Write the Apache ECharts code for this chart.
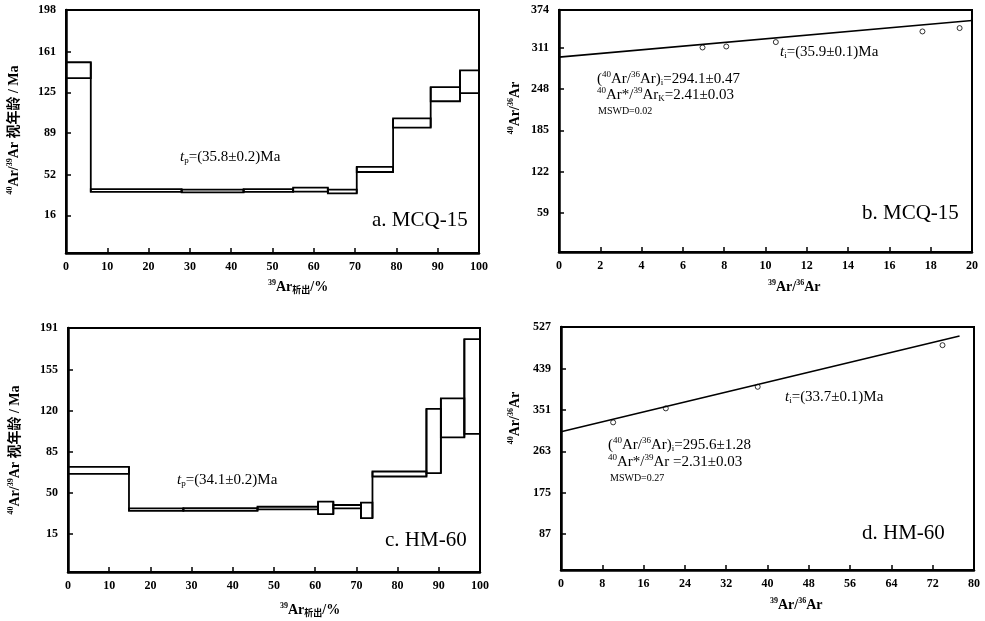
<!DOCTYPE html>
<html>
<head>
<meta charset="utf-8">
<script src="https://cdn.jsdelivr.net/npm/echarts@6/dist/echarts.min.js"></script>
<style>
  html, body { margin: 0; padding: 0; background: #fff; }
  #main { width: 985px; height: 621px; }
</style>
</head>
<body>
<div id="main"></div>
<script>
// a. MCQ-15 age spectrum: step edges (% 39Ar released), box top / bottom (Ma)
var stepEdgesA = [0, 6, 28, 43, 55, 63.4, 70.4, 79.2, 88.3, 95.4, 100];
var ageHighA = [151.7, 39.3, 38.8, 39.2, 40.5, 38.8, 59.0, 101.9, 129.7, 144.4];
var ageLowA = [137.6, 36.8, 36.3, 36.7, 37.0, 35.4, 54.4, 93.7, 117.1, 124.4];
var yTicksA = [16, 52, 89, 125, 161, 198];

// c. HM-60 age spectrum
var stepEdgesC = [0, 14.8, 28, 46, 60.7, 64.4, 71.1, 73.9, 87, 90.5, 96.2, 100];
var ageHighC = [72.1, 36.5, 36.6, 37.9, 42.2, 39.4, 41.4, 68.1, 121.8, 130.7, 181.5];
var ageLowC = [66.1, 34.3, 34.4, 35.6, 31.6, 36.5, 28.2, 63.8, 66.7, 97.3, 100.3];
var yTicksC = [15, 50, 85, 120, 155, 191];

// b. MCQ-15 isochron
var ratioXB = [6.95, 8.1, 10.5, 17.6, 19.4];
var ratioYB = [311, 312.5, 319.2, 335.4, 340.5];
var fitXB = [0, 20];
var fitYB = [296.4, 352.1];
var yTicksB = [59, 122, 185, 248, 311, 374];

// d. HM-60 isochron
var ratioXD = [10.1, 20.3, 38.1, 73.9];
var ratioYD = [324.5, 354.2, 400, 488.4];
var fitXD = [0, 77.2];
var fitYD = [304.7, 507.9];
var yTicksD = [87, 175, 263, 351, 439, 527];

var SERIF = '"Liberation Serif", "Noto Sans CJK SC", serif';
var BLACK = '#000';

function boxData(edges, hi, lo) {
  var out = [];
  for (var i = 0; i < hi.length; i++) {
    out.push([edges[i], edges[i + 1], lo[i], hi[i],
      i > 0 ? lo[i - 1] : lo[i], i > 0 ? hi[i - 1] : hi[i]]);
  }
  return out;
}

// each step = outlined box plus the vertical riser joining it to the previous step
function renderStep(params, api) {
  var x0 = api.value(0), x1 = api.value(1);
  var lo = api.value(2), hi = api.value(3);
  var plo = api.value(4), phi = api.value(5);
  var a = api.coord([x0, hi]);
  var b = api.coord([x1, lo]);
  var st = { fill: 'none', stroke: BLACK, lineWidth: 1.8 };
  var kids = [{
    type: 'rect',
    shape: { x: a[0], y: a[1], width: b[0] - a[0], height: b[1] - a[1] },
    style: st
  }];
  if (params.dataIndex > 0) {
    var t = api.coord([x0, Math.max(hi, phi)]);
    var u = api.coord([x0, Math.min(lo, plo)]);
    kids.push({ type: 'line', shape: { x1: t[0], y1: t[1], x2: u[0], y2: u[1] }, style: st });
  }
  return { type: 'group', children: kids };
}

function pairs(xs, ys) {
  return xs.map(function (x, i) { return [x, ys[i]]; });
}

function xAxis(idx, max, interval) {
  return {
    type: 'value', gridIndex: idx, min: 0, max: max, interval: interval,
    axisLine: { onZero: false, lineStyle: { color: BLACK, width: 2.5 } },
    axisTick: { inside: true, length: 5, lineStyle: { color: BLACK, width: 1.5 } },
    axisLabel: { color: BLACK, fontFamily: SERIF, fontWeight: 'bold', fontSize: 12, margin: 8 },
    splitLine: { show: false }
  };
}

function yAxis(idx, min, max, ticks) {
  var pos = ticks.map(function (v) { return Math.min(v, max); });
  return {
    type: 'value', gridIndex: idx, min: min, max: max,
    axisLine: { show: true, onZero: false, lineStyle: { color: BLACK, width: 2.5 } },
    axisTick: { inside: true, length: 5, customValues: pos, lineStyle: { color: BLACK, width: 1.5 } },
    axisLabel: {
      customValues: pos, color: BLACK, fontFamily: SERIF, fontWeight: 'bold', fontSize: 12, margin: 10,
      formatter: function (v) {
        for (var i = 0; i < pos.length; i++) if (Math.abs(pos[i] - v) < 1e-6) return String(ticks[i]);
        return '';
      }
    },
    splitLine: { show: false }
  };
}

var richStyle = {
  n: { fontFamily: SERIF, fontSize: 14, fontWeight: 'bold', color: BLACK },
  s: { fontFamily: SERIF, fontSize: 8, fontWeight: 'bold', color: BLACK, verticalAlign: 'top', lineHeight: 16 },
  b: { fontFamily: SERIF, fontSize: 9, fontWeight: 'bold', color: BLACK, verticalAlign: 'bottom', lineHeight: 16 },
  t: { fontFamily: SERIF, fontSize: 15, color: BLACK },
  it: { fontFamily: SERIF, fontSize: 15, fontStyle: 'italic', color: BLACK },
  ts: { fontFamily: SERIF, fontSize: 9, color: BLACK, verticalAlign: 'top', lineHeight: 17 },
  tb: { fontFamily: SERIF, fontSize: 9, color: BLACK, verticalAlign: 'bottom', lineHeight: 17 },
  m: { fontFamily: SERIF, fontSize: 10, color: BLACK }
};

function txt(x, y, text, rot) {
  return {
    type: 'text', x: x, y: y, rotation: rot || 0, silent: true,
    style: { text: text, rich: richStyle, align: rot ? 'center' : 'left', verticalAlign: 'middle' }
  };
}

function tag(x, y, text) {
  return {
    type: 'text', x: x, y: y, silent: true,
    style: { text: text, fill: BLACK, fontFamily: SERIF, fontSize: 21, verticalAlign: 'middle' }
  };
}

var R = Math.PI / 2;
var chart = echarts.init(document.getElementById('main'));
chart.setOption({
  animation: false,
  backgroundColor: '#fff',
  grid: [
    { left: 66, top: 10, width: 413, height: 243, show: true, borderColor: BLACK, borderWidth: 2 },
    { left: 559, top: 10, width: 413, height: 242, show: true, borderColor: BLACK, borderWidth: 2 },
    { left: 68, top: 328, width: 412, height: 244, show: true, borderColor: BLACK, borderWidth: 2 },
    { left: 561, top: 327, width: 413, height: 243, show: true, borderColor: BLACK, borderWidth: 2 }
  ],
  xAxis: [xAxis(0, 100, 10), xAxis(1, 20, 2), xAxis(2, 100, 10), xAxis(3, 80, 8)],
  yAxis: [
    yAxis(0, -17.4, 198, yTicksA),
    yAxis(1, 0, 368, yTicksB),
    yAxis(2, -18, 191, yTicksC),
    yAxis(3, 11, 527, yTicksD)
  ],
  series: [
    { type: 'custom', xAxisIndex: 0, yAxisIndex: 0, renderItem: renderStep,
      encode: { x: [0, 1], y: [2, 3] }, data: boxData(stepEdgesA, ageHighA, ageLowA) },
    { type: 'custom', xAxisIndex: 2, yAxisIndex: 2, renderItem: renderStep,
      encode: { x: [0, 1], y: [2, 3] }, data: boxData(stepEdgesC, ageHighC, ageLowC) },
    { type: 'line', xAxisIndex: 1, yAxisIndex: 1, data: pairs(fitXB, fitYB), showSymbol: false,
      lineStyle: { color: BLACK, width: 1.6 } },
    { type: 'scatter', xAxisIndex: 1, yAxisIndex: 1, data: pairs(ratioXB, ratioYB), symbolSize: 5,
      itemStyle: { color: '#fff', borderColor: BLACK, borderWidth: 1 } },
    { type: 'line', xAxisIndex: 3, yAxisIndex: 3, data: pairs(fitXD, fitYD), showSymbol: false,
      lineStyle: { color: BLACK, width: 1.6 } },
    { type: 'scatter', xAxisIndex: 3, yAxisIndex: 3, data: pairs(ratioXD, ratioYD), symbolSize: 5,
      itemStyle: { color: '#fff', borderColor: BLACK, borderWidth: 1 } }
  ],
  graphic: [
    // axis names
    txt(14, 130, '{s|40}{n|Ar/}{s|39}{n|Ar 视年龄 / Ma}', R),
    txt(268, 287, '{s|39}{n|Ar}{b|析出}{n|/%}', 0),
    txt(515, 108, '{s|40}{n|Ar/}{s|36}{n|Ar}', R),
    txt(768, 287, '{s|39}{n|Ar/}{s|36}{n|Ar}', 0),
    txt(15, 450, '{s|40}{n|Ar/}{s|39}{n|Ar 视年龄 / Ma}', R),
    txt(280, 610, '{s|39}{n|Ar}{b|析出}{n|/%}', 0),
    txt(515, 418, '{s|40}{n|Ar/}{s|36}{n|Ar}', R),
    txt(770, 605, '{s|39}{n|Ar/}{s|36}{n|Ar}', 0),
    // annotations
    txt(180, 157, '{it|t}{tb|p}{t|=(35.8±0.2)Ma}'),
    txt(780, 52, '{it|t}{tb|i}{t|=(35.9±0.1)Ma}'),
    txt(597, 79, '{t|(}{ts|40}{t|Ar/}{ts|36}{t|Ar)}{tb|i}{t|=294.1±0.47}'),
    txt(597, 95, '{ts|40}{t|Ar*/}{ts|39}{t|Ar}{tb|K}{t|=2.41±0.03}'),
    txt(598, 111, '{m|MSWD=0.02}'),
    txt(177, 480, '{it|t}{tb|p}{t|=(34.1±0.2)Ma}'),
    txt(785, 397, '{it|t}{tb|i}{t|=(33.7±0.1)Ma}'),
    txt(608, 445, '{t|(}{ts|40}{t|Ar/}{ts|36}{t|Ar)}{tb|i}{t|=295.6±1.28}'),
    txt(608, 462, '{ts|40}{t|Ar*/}{ts|39}{t|Ar =2.31±0.03}'),
    txt(610, 478, '{m|MSWD=0.27}'),
    tag(372, 220, 'a. MCQ-15'),
    tag(862, 213, 'b. MCQ-15'),
    tag(385, 540, 'c. HM-60'),
    tag(862, 533, 'd. HM-60')
  ]
});
</script>
</body>
</html>
